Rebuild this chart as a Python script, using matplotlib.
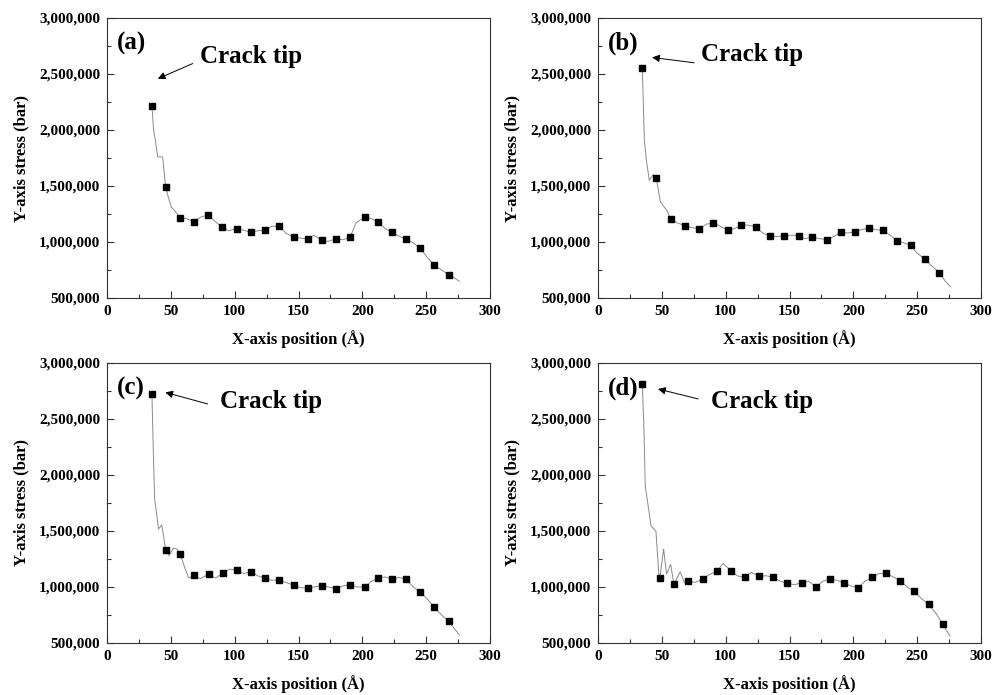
import numpy as np
import matplotlib.pyplot as plt
from matplotlib.ticker import FuncFormatter, MultipleLocator

plt.rcParams['font.family'] = ['Liberation Serif', 'DejaVu Serif']
plt.rcParams['font.weight'] = 'bold'

# ---- panel (a) ----
a_mx = [35.2, 45.9, 57.4, 68.1, 79.3, 90.3, 101.5, 112.7, 123.9, 135.1, 146.1, 157.1, 168.3,
        179.5, 190.5, 201.7, 212.4, 223.3, 234.3, 245.5, 256.2, 267.7]
a_my = [2215000, 1493000, 1213000, 1183000, 1243000, 1132000, 1120000, 1085000, 1109000, 1141000,
        1043000, 1028000, 1016000, 1028000, 1046000, 1222000, 1177000, 1088000, 1028000, 942000,
        798000, 709000]
a_lx = [35.2, 36.5, 38, 39.7, 43.6, 45.9, 48, 50.5, 53, 57.4, 62, 68.1, 73, 79.3, 85, 90.3, 95,
        101.5, 107, 112.7, 118, 123.9, 129, 135.1, 140, 146.1, 151, 157.1, 162, 168.3, 173, 179.5,
        185, 190.5, 195, 201.7, 207, 212.4, 218, 223.3, 229, 234.3, 240, 245.5, 251, 256.2, 262,
        267.7, 272, 276]
a_ly = [2215000, 2000000, 1900000, 1760000, 1760000, 1493000, 1400000, 1310000, 1280000, 1213000,
        1210000, 1183000, 1220000, 1243000, 1180000, 1132000, 1100000, 1120000, 1105000, 1085000,
        1100000, 1109000, 1140000, 1141000, 1080000, 1043000, 1035000, 1028000, 1060000, 1016000,
        1005000, 1028000, 1020000, 1046000, 1170000, 1222000, 1210000, 1177000, 1120000, 1088000,
        1050000, 1028000, 990000, 942000, 860000, 798000, 750000, 709000, 680000, 649000]

# ---- panel (b) ----
b_mx = [34.7, 45.7, 56.9, 68.1, 79.3, 90.3, 101.5, 112.4, 123.7, 134.9, 145.8, 157.1, 168,
        179.2, 190.2, 201.1, 212.1, 223.1, 234, 245, 255.9, 267.4]
b_my = [2558000, 1571000, 1207000, 1147000, 1118000, 1168000, 1103000, 1153000, 1135000, 1052000,
        1052000, 1058000, 1046000, 1022000, 1091000, 1091000, 1124000, 1103000, 1013000, 971000,
        849000, 727000]
b_lx = [34.7, 36.3, 38, 40.2, 43, 45.7, 48.8, 54, 56.9, 62, 68.1, 73, 79.3, 85, 90.3, 96, 101.5,
        107, 112.4, 118, 123.7, 129, 134.9, 140, 145.8, 151, 157.1, 162, 168, 173, 179.2, 185,
        190.2, 195, 201.1, 206, 212.1, 218, 223.1, 229, 234, 240, 245, 250, 255.9, 262, 267.4,
        272, 275.8]
b_ly = [2558000, 1910000, 1720000, 1550000, 1600000, 1571000, 1360000, 1280000, 1207000, 1170000,
        1147000, 1130000, 1118000, 1160000, 1168000, 1140000, 1103000, 1120000, 1153000, 1150000,
        1135000, 1080000, 1052000, 1050000, 1052000, 1060000, 1058000, 1030000, 1046000, 1030000,
        1022000, 1050000, 1091000, 1080000, 1091000, 1110000, 1124000, 1110000, 1103000, 1060000,
        1013000, 990000, 971000, 900000, 849000, 780000, 727000, 650000, 604000]

# ---- panel (c) ----
c_mx = [35.2, 45.9, 57.4, 68.1, 79.6, 90.8, 101.7, 113, 123.9, 135.1, 146.1, 157.1, 168.3,
        179.5, 190.5, 201.7, 212.4, 223.3, 234.3, 245.5, 256.2, 267.7]
c_my = [2720000, 1330000, 1292000, 1104000, 1113000, 1122000, 1149000, 1137000, 1077000, 1065000,
        1018000, 988000, 1012000, 985000, 1018000, 1000000, 1077000, 1071000, 1068000, 955000,
        824000, 693000]
c_lx = [35.2, 36.3, 37.3, 40.4, 42.8, 44.3, 45.9, 48.5, 52, 54.8, 57.4, 61.3, 64, 68.1, 73,
        79.6, 85, 90.8, 96, 101.7, 107, 113, 118, 123.9, 129, 135.1, 140, 146.1, 151, 157.1, 162,
        168.3, 173, 179.5, 185, 190.5, 196, 201.7, 207, 212.4, 218, 223.3, 229, 234.3, 240, 245.5,
        251, 256.2, 262, 267.7, 272, 276]
c_ly = [2720000, 2200000, 1786000, 1518000, 1554000, 1460000, 1330000, 1280000, 1345000, 1340000,
        1292000, 1160000, 1080000, 1104000, 1075000, 1113000, 1080000, 1122000, 1160000, 1149000,
        1120000, 1137000, 1100000, 1077000, 1060000, 1065000, 1040000, 1018000, 995000, 988000,
        1000000, 1012000, 1000000, 985000, 1010000, 1018000, 1000000, 1000000, 1050000, 1077000,
        1090000, 1071000, 1085000, 1068000, 1000000, 955000, 890000, 824000, 750000, 693000,
        630000, 574000]

# ---- panel (d) ----
d_mx = [34.7, 48.5, 59.5, 70.7, 81.9, 93.1, 104.1, 115.3, 126.3, 137.2, 148.4, 159.7, 170.6,
        181.6, 192.8, 203.8, 215, 225.9, 236.9, 247.8, 259.1, 270]
d_my = [2815000, 1083000, 1024000, 1057000, 1071000, 1140000, 1146000, 1086000, 1098000, 1086000,
        1033000, 1039000, 1000000, 1071000, 1036000, 991000, 1089000, 1122000, 1057000, 961000,
        845000, 667000]
d_lx = [34.7, 36, 37, 41.5, 45.4, 47.6, 48.5, 51.4, 53.7, 56.9, 59.5, 64.4, 67.6, 70.7, 76,
        81.9, 87, 93.1, 98, 104.1, 109, 115.3, 120, 126.3, 132, 137.2, 143, 148.4, 154, 159.7,
        165, 170.6, 176, 181.6, 187, 192.8, 198, 203.8, 209, 215, 220, 225.9, 231, 236.9, 242,
        247.8, 253, 259.1, 265, 270, 273, 275.8]
d_ly = [2815000, 2400000, 1905000, 1548000, 1497000, 1120000, 1083000, 1339000, 1116000, 1202000,
        1024000, 1137000, 1040000, 1057000, 1040000, 1071000, 1110000, 1140000, 1210000, 1146000,
        1100000, 1086000, 1130000, 1098000, 1100000, 1086000, 1050000, 1033000, 1020000, 1039000,
        1050000, 1000000, 1050000, 1071000, 1060000, 1036000, 1010000, 991000, 1050000, 1089000,
        1120000, 1122000, 1090000, 1057000, 1000000, 961000, 900000, 845000, 760000, 667000,
        610000, 565000]

panels = [
    ('(a)', a_mx, a_my, a_lx, a_ly, (37.8, 2448000), (69.1, 2603000), (0.243, 0.864)),
    ('(b)', b_mx, b_my, b_lx, b_ly, (40.2, 2651000), (77.5, 2597000), (0.269, 0.868)),
    ('(c)', c_mx, c_my, c_lx, c_ly, (43.6, 2744000), (80.9, 2628000), (0.295, 0.861)),
    ('(d)', d_mx, d_my, d_lx, d_ly, (44.9, 2774000), (80.6, 2673000), (0.295, 0.864)),
]

# axes boxes in pixels (left, top) of the 1001x695 picture
boxes = [(107, 18), (598, 18), (107, 363), (598, 363)]
W, H = 1001.0, 695.0

fig = plt.figure(figsize=(10.01, 6.95), dpi=100)
fmt = FuncFormatter(lambda v, p: '{:,.0f}'.format(v))

for (lab, mx, my, lx, ly, head, tail, txt), (l, t) in zip(panels, boxes):
    ax = fig.add_axes([l / W, 1 - (t + 280) / H, 383 / W, 280 / H])
    ax.plot(lx, ly, color='#8a8a8a', lw=0.7)
    ax.plot(mx, my, 's', color='k', ms=4.8)
    ax.set_xlim(0, 300)
    ax.set_ylim(500000, 3000000)
    ax.xaxis.set_major_locator(MultipleLocator(50))
    ax.xaxis.set_minor_locator(MultipleLocator(25))
    ax.yaxis.set_major_locator(MultipleLocator(500000))
    ax.yaxis.set_minor_locator(MultipleLocator(250000))
    ax.yaxis.set_major_formatter(fmt)
    ax.tick_params(which='both', direction='in', top=False, right=False, labelsize=11,
                   width=0.8, color='#333333')
    ax.tick_params(which='major', length=5, pad=5)
    ax.tick_params(which='minor', length=3)
    for lbl in ax.get_xticklabels() + ax.get_yticklabels():
        lbl.set_fontweight('bold')
    for s in ax.spines.values():
        s.set_linewidth(0.8)
        s.set_color('#333333')
    ax.set_xlabel('X-axis position (Å)', fontsize=12, fontweight='bold', labelpad=9)
    ax.set_ylabel('Y-axis stress (bar)', fontsize=12, fontweight='bold', labelpad=7)
    ax.text(0.025, 0.91, lab, transform=ax.transAxes, fontsize=18, fontweight='bold',
            va='center', ha='left')
    ax.text(txt[0], txt[1], 'Crack tip', transform=ax.transAxes, fontsize=18,
            fontweight='bold', va='center', ha='left')
    ax.annotate('', xy=head, xytext=tail,
                arrowprops=dict(arrowstyle='-|>', lw=0.7, color='k', mutation_scale=11))

plt.savefig('out.png', dpi=100)
